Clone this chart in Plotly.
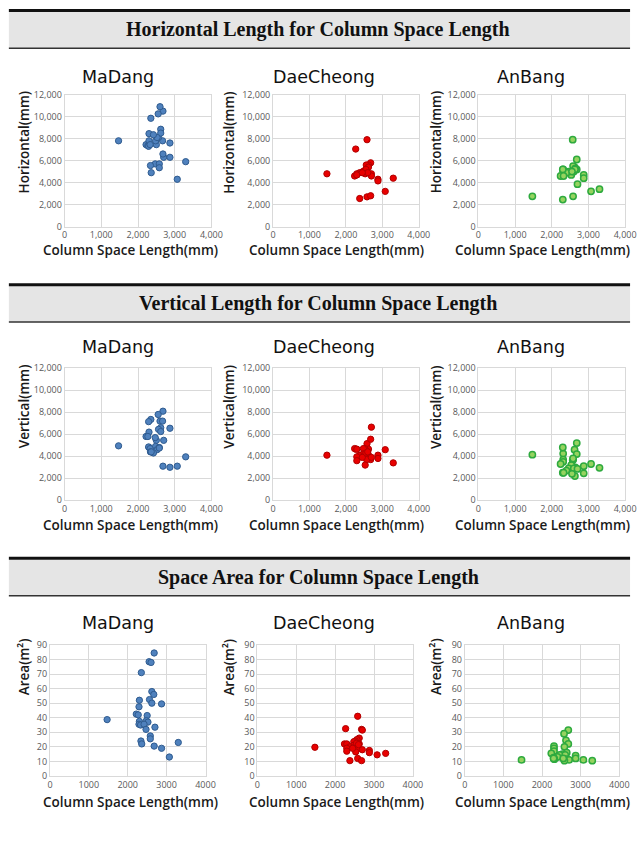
import plotly.graph_objects as go

W, H = 644, 841

# ---------------- data ----------------
sites = ["MaDang", "DaeCheong", "AnBang"]
sections = ["Horizontal Length for Column Space Length",
            "Vertical Length for Column Space Length",
            "Space Area for Column Space Length"]
y_titles = ["Horizontal(mm)", "Vertical(mm)", "Area(m\u00b2)"]
x_title = "Column Space Length(mm)"

len_ticks = [0, 2000, 4000, 6000, 8000, 10000, 12000]
area_ticks = [0, 10, 20, 30, 40, 50, 60, 70, 80, 90]
x_ticks = [0, 1000, 2000, 3000, 4000]

madang_x = [1470, 2680, 2550, 2600, 2350, 2620, 2670, 2300, 2560, 2620, 2870, 2290, 2220, 2270, 2500, 2300,
            2480, 2520, 2290, 2330, 2420, 2700, 2470, 2580, 2580, 2340, 2360, 2680, 3300, 2870, 3070]
madang_h = [7800, 10500, 10250, 10900, 9850, 8850, 7800, 8450, 8100, 8500, 7600, 7400, 7450, 7350, 7450, 7800,
            7800, 8100, 7300, 7450, 8350, 6300, 5700, 5700, 5350, 5550, 4900, 6600, 5900, 6300, 4300]
madang_v = [4950, 8100, 7800, 7200, 7350, 6600, 7200, 6200, 6450, 6250, 6550, 7150, 5800, 5800, 5450, 4800,
            4900, 4600, 4850, 4700, 4300, 5450, 5700, 4800, 4750, 4400, 4400, 3100, 3950, 3000, 3100]
madang_a = [38.7, 84.5, 78.5, 78, 71, 58, 56, 52, 52.5, 50, 49.5, 47.5, 42.5, 42, 41.5, 37.5,
            38, 37, 35.5, 35, 35.5, 33.5, 32, 27.5, 25.5, 24, 22, 20.5, 23, 19, 13]

daecheong_x = [1480, 2580, 2270, 2680, 2700, 3300, 3080, 2880, 2880, 2380, 2580, 2680, 2620, 2560, 2520,
               2480, 2240, 2300, 2620, 2470, 2380, 2300, 2570, 2700, 2300, 2530, 2550, 2600, 2450]
daecheong_h = [4800, 7900, 7050, 5800, 4800, 4400, 3200, 4300, 4150, 2550, 2700, 2800, 5600, 5600, 5100,
               5000, 4600, 4700, 5400, 5000, 4900, 4800, 5000, 4600, 4700, 4800, 5200, 4900, 4900]
daecheong_v = [4100, 5150, 4650, 5550, 6650, 3400, 4600, 4100, 3800, 4100, 4400, 3700, 4650, 4500, 4700,
               4700, 4700, 4650, 4100, 4200, 4050, 3950, 3700, 3900, 3600, 3200, 4300, 4400, 3900]
daecheong_a = [19.7, 41, 32.5, 32, 31.5, 15.5, 14.5, 17.5, 16, 10.5, 12, 10.5, 26, 25, 24,
               23.5, 22, 22, 22, 21, 20, 19, 18.5, 18, 17, 16.5, 22.5, 21.5, 19]

anbang_x = [1470, 2680, 2570, 2620, 2680, 2310, 2580, 2310, 2640, 2310, 2240, 2530, 2460, 2870, 2600,
            2400, 2300, 2870, 2630, 2320, 3070, 3300, 2700, 2580, 2300, 2550]
anbang_h = [2750, 6100, 7900, 5400, 5200, 5200, 5500, 5100, 5300, 4700, 4600, 4700, 5000, 4700, 5000,
            4900, 5200, 4400, 5200, 4600, 3200, 3400, 3850, 2750, 2450, 5000]
anbang_v = [4150, 5200, 3650, 4600, 4200, 4250, 3700, 3700, 3000, 3500, 3300, 3200, 2900, 3100, 2900,
            2700, 2500, 2450, 2200, 2500, 3300, 2950, 2850, 3800, 4800, 2400]
anbang_a = [11, 31.5, 29, 24.5, 22, 20.5, 20, 19, 16, 17, 15.5, 15, 14.5, 14, 14.5,
            13, 12.5, 12, 11.5, 11.5, 11, 10.5, 11, 10.5, 12, 12]

site_x = [madang_x, daecheong_x, anbang_x]
site_rows = [[madang_h, madang_v, madang_a],
             [daecheong_h, daecheong_v, daecheong_a],
             [anbang_h, anbang_v, anbang_a]]

# ---------------- styling / layout ----------------
marker_styles = [
    dict(color="#4f81bd", line=dict(color="#2f5b8f", width=1)),
    dict(color="#e80000", line=dict(color="#b00000", width=1)),
    dict(color="#96d35f", line=dict(color="#2eaa3f", width=1.5)),
]

# plot-area boxes in pixels: (x0, x1) per column per row, (y0, y1) per row
col_px = [
    [(63, 213), (276, 425), (486, 636)],
    [(63, 213), (276, 425), (486, 636)],
    [(48, 207), (260, 419), (472, 630)],
]
row_px = [(89, 223), (367, 501), (648, 781)]
title_y = [71, 345, 626]
title_x = [118, 328, 540]
ytitle_x = [21, 231, 442]
ytitle_y = [137, 406, 670]
xtitle_x = [130, 341, 551]
xtitle_y = [247, 526, 807]
bands = [(3.5, 42), (282, 320), (560, 598)]

def px_x(p):
    return p / W

def px_y(p):
    return 1 - p / H

fig = go.Figure()
layout = dict(
    width=W, height=H,
    margin=dict(l=0, r=0, t=0, b=0),
    paper_bgcolor="white", plot_bgcolor="white",
    showlegend=False,
    font=dict(family="Open Sans", color="#595959", size=9),
)

annotations = []
shapes = []
tick_font = dict(family="Open Sans", size=9, color="#595959")
axis_title_font = dict(family="Open Sans", size=13.5, color="#1a1a1a", weight=600)

idx = 0
for r in range(3):
    for c in range(3):
        idx += 1
        xa = "xaxis" if idx == 1 else f"xaxis{idx}"
        ya = "yaxis" if idx == 1 else f"yaxis{idx}"
        xr = "x" if idx == 1 else f"x{idx}"
        yr = "y" if idx == 1 else f"y{idx}"
        fig.add_trace(go.Scatter(
            x=site_x[c], y=site_rows[c][r], mode="markers",
            marker=dict(size=6.3, **marker_styles[c]),
            xaxis=xr, yaxis=yr, hoverinfo="x+y",
        ))
        x0, x1 = col_px[r][c]
        y0, y1 = row_px[r]
        layout[xa] = dict(
            domain=[px_x(x0), px_x(x1)], anchor=yr,
            range=[0, 4000], tickvals=x_ticks,
            tickformat=",d" if r < 2 else "d",
            showgrid=True, gridcolor="#d9d9d9", gridwidth=1,
            zeroline=False, showline=True, linecolor="#d9d9d9", mirror=True,
            ticks="", tickfont=tick_font, fixedrange=True,
        )
        if r < 2:
            yrange, yt, yfmt = [0, 12000], len_ticks, ",d"
        else:
            yrange, yt, yfmt = [0, 90], area_ticks, "d"
        layout[ya] = dict(
            domain=[px_y(y1), px_y(y0)], anchor=xr,
            range=yrange, tickvals=yt, tickformat=yfmt,
            showgrid=True, gridcolor="#d9d9d9", gridwidth=1,
            zeroline=False, showline=True, linecolor="#d9d9d9", mirror=True,
            ticks="", tickfont=tick_font, fixedrange=True,
        )
        # subplot title
        annotations.append(dict(
            text=sites[c], x=px_x(title_x[c]), y=px_y(title_y[r]),
            xref="paper", yref="paper", xanchor="center", yanchor="middle",
            showarrow=False, font=dict(family="DejaVu Sans", size=17.5, color="#111111"),
        ))
        # y title
        annotations.append(dict(
            text=y_titles[r], x=px_x(ytitle_x[c]), y=px_y(ytitle_y[r]),
            xref="paper", yref="paper", xanchor="center", yanchor="middle",
            textangle=-90, showarrow=False, font=axis_title_font,
        ))
        # x title
        annotations.append(dict(
            text=x_title, x=px_x(xtitle_x[c]), y=px_y(xtitle_y[r]),
            xref="paper", yref="paper", xanchor="center", yanchor="middle",
            showarrow=False, font=axis_title_font,
        ))

# section header bands
for i, (top, bot) in enumerate(bands):
    shapes.append(dict(type="rect", xref="paper", yref="paper",
                       x0=px_x(6), x1=px_x(641), y0=px_y(bot), y1=px_y(top + 1.5),
                       fillcolor="#e5e5e5", line=dict(width=0), layer="below"))
    shapes.append(dict(type="line", xref="paper", yref="paper",
                       x0=px_x(6), x1=px_x(641), y0=px_y(top), y1=px_y(top),
                       line=dict(color="#111111", width=3)))
    shapes.append(dict(type="line", xref="paper", yref="paper",
                       x0=px_x(6), x1=px_x(641), y0=px_y(bot), y1=px_y(bot),
                       line=dict(color="#333333", width=1.5)))
    annotations.append(dict(
        text="<b>" + sections[i] + "</b>", x=px_x(322), y=px_y((top + bot) / 2 + 0.5),
        xref="paper", yref="paper", xanchor="center", yanchor="middle",
        showarrow=False, font=dict(family="Liberation Serif", size=20, color="#111111"),
    ))

layout["annotations"] = annotations
layout["shapes"] = shapes
fig.update_layout(**layout)

fig.write_html("out.html")
